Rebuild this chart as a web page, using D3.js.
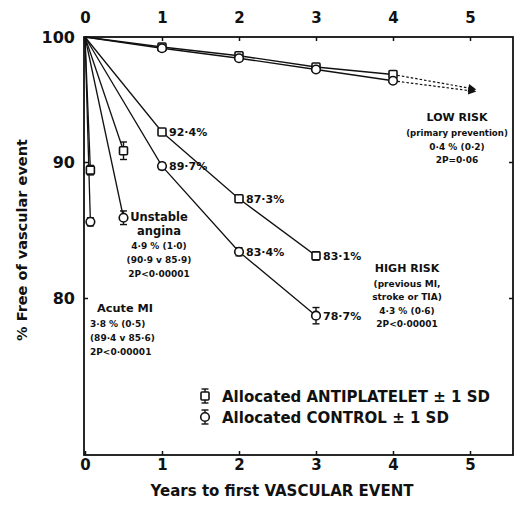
<!DOCTYPE html>
<html><head><meta charset="utf-8">
<script src="https://cdn.jsdelivr.net/npm/d3@7/dist/d3.min.js"></script>
<style>
html,body{margin:0;padding:0;background:#fff;}
svg{display:block;}
text{font-family:"DejaVu Sans",sans-serif;font-weight:bold;fill:#111;}
</style></head><body>
<svg id="chart" width="517" height="518"></svg>
<script>
// Proportion free of vascular event, antiplatelet vs control, by risk group

// axis ticks
const xTicks = [0, 1, 2, 3, 4, 5];
const yTicks = [100, 90, 80];

// low risk (primary prevention)
const lowYears = [0, 1, 2, 3, 4];
const lowAnti = [100, 99.2, 98.5, 97.6, 97.0];
const lowCtrl = [100, 99.1, 98.3, 97.4, 96.5];
const lowAntiSD = [0, 0.1, 0.12, 0.15, 0.2];
const lowCtrlSD = [0, 0.1, 0.12, 0.15, 0.2];
const lowProjYears = [4, 5];
const lowAntiProj = [97.0, 95.9];
const lowCtrlProj = [96.5, 95.7];

// high risk (previous MI, stroke or TIA)
const highYears = [0, 1, 2, 3];
const highAnti = [100, 92.4, 87.3, 83.1];
const highCtrl = [100, 89.7, 83.4, 78.7];
const highAntiSD = [0, 0.2, 0.25, 0.3];
const highCtrlSD = [0, 0.25, 0.3, 0.6];

// unstable angina
const anginaYears = [0, 0.5];
const anginaAnti = [100, 90.9];
const anginaCtrl = [100, 85.9];
const anginaAntiSD = [0, 0.7];
const anginaCtrlSD = [0, 0.5];

// acute MI
const amiYears = [0, 0.07];
const amiAnti = [100, 89.4];
const amiCtrl = [100, 85.6];
const amiAntiSD = [0, 0.35];
const amiCtrlSD = [0, 0.3];

// annotation texts
const lowNote = ["LOW RISK", "(primary prevention)", "0·4 % (0·2)", "2P=0·06"];
const highNote = ["HIGH RISK", "(previous MI,", "stroke or TIA)", "4·3 % (0·6)", "2P<0·00001"];
const anginaNote = ["Unstable", "angina", "4·9 % (1·0)", "(90·9 v 85·9)", "2P<0·00001"];
const amiNote = ["Acute MI", "3·8 % (0·5)", "(89·4 v 85·6)", "2P<0·00001"];
const legendLabels = ["Allocated ANTIPLATELET ± 1 SD", "Allocated CONTROL ± 1 SD"];
const xTitle = "Years to first VASCULAR EVENT";
const yTitle = "% Free of vascular event";

const svg = d3.select("#chart");
const frame = {left: 84, right: 513, top: 37, bottom: 455};

const x = d3.scaleLinear().domain([0, 5]).range([85, 470]);
const y = d3.scaleLinear().domain([100, 90, 80]).range([37, 162, 298]);

const fmt = v => d3.format(".1f")(v).replace(".", "·") + "%";

// arrowhead for projected segment
svg.append("defs").append("marker")
  .attr("id", "arrow").attr("viewBox", "0 0 10 10")
  .attr("refX", 2).attr("refY", 5)
  .attr("markerWidth", 10).attr("markerHeight", 8)
  .attr("markerUnits", "userSpaceOnUse")
  .attr("orient", "auto")
  .append("path").attr("d", "M0,0 L10,5 L0,10 Z").attr("fill", "#111");

// frame
svg.append("rect")
  .attr("x", frame.left).attr("y", frame.top)
  .attr("width", frame.right - frame.left).attr("height", frame.bottom - frame.top)
  .attr("fill", "none").attr("stroke", "#111").attr("stroke-width", 1.8);

function styleAxis(g, size) {
  g.select(".domain").remove();
  g.selectAll("line").attr("stroke", "#111").attr("stroke-width", 1.5);
  g.selectAll("text")
    .attr("font-family", "DejaVu Sans, sans-serif")
    .attr("font-weight", "bold").attr("font-size", size).attr("fill", "#111");
}

svg.append("g").attr("transform", `translate(0,${frame.top})`)
  .call(d3.axisTop(x).tickValues(xTicks).tickSize(-4).tickPadding(14).tickFormat(d3.format("d")))
  .call(g => styleAxis(g, 15));

svg.append("g").attr("transform", `translate(0,${frame.bottom})`)
  .call(d3.axisBottom(x).tickValues(xTicks).tickSize(-4).tickPadding(4).tickFormat(d3.format("d")))
  .call(g => styleAxis(g, 15));

svg.append("g").attr("transform", `translate(${frame.left},0)`)
  .call(d3.axisLeft(y).tickValues(yTicks).tickSize(-4).tickPadding(9).tickFormat(d3.format("d")))
  .call(g => styleAxis(g, 16));

svg.append("g").attr("transform", `translate(${frame.right},0)`)
  .call(d3.axisRight(y).tickValues([90, 80]).tickSize(-4).tickFormat(""))
  .call(g => styleAxis(g, 10));

const line = d3.line().x(d => x(d[0])).y(d => y(d[1]));
const zip = (a, b, s) => a.map((v, i) => [v, b[i], s ? s[i] : 0]);

const series = [
  {pts: zip(lowYears, lowAnti, lowAntiSD), type: "anti"},
  {pts: zip(lowYears, lowCtrl, lowCtrlSD), type: "ctrl"},
  {pts: zip(highYears, highAnti, highAntiSD), type: "anti", label: true},
  {pts: zip(highYears, highCtrl, highCtrlSD), type: "ctrl", label: true},
  {pts: zip(anginaYears, anginaAnti, anginaAntiSD), type: "anti"},
  {pts: zip(anginaYears, anginaCtrl, anginaCtrlSD), type: "ctrl"},
  {pts: zip(amiYears, amiAnti, amiAntiSD), type: "anti"},
  {pts: zip(amiYears, amiCtrl, amiCtrlSD), type: "ctrl"}
];

// connecting lines
svg.append("g").selectAll("path").data(series).join("path")
  .attr("d", s => line(s.pts))
  .attr("fill", "none").attr("stroke", "#111").attr("stroke-width", 1.3);

// projected low-risk trend
[zip(lowProjYears, lowAntiProj), zip(lowProjYears, lowCtrlProj)].forEach(p => {
  svg.append("path").attr("d", line(p))
    .attr("fill", "none").attr("stroke", "#111").attr("stroke-width", 1.2)
    .attr("stroke-dasharray", "2.5,2")
    .attr("marker-end", "url(#arrow)");
});

function drawSymbol(g, cx, cy, type, sdTop, sdBot) {
  if (sdTop !== undefined) {
    g.append("line").attr("x1", cx).attr("x2", cx).attr("y1", sdTop).attr("y2", sdBot)
      .attr("stroke", "#111").attr("stroke-width", 1.4);
    [sdTop, sdBot].forEach(yy => g.append("line")
      .attr("x1", cx - 3.5).attr("x2", cx + 3.5).attr("y1", yy).attr("y2", yy)
      .attr("stroke", "#111").attr("stroke-width", 1.4));
  }
  if (type === "anti") {
    g.append("rect").attr("x", cx - 4).attr("y", cy - 4).attr("width", 8).attr("height", 8)
      .attr("rx", 1).attr("fill", "#fff").attr("stroke", "#111").attr("stroke-width", 1.6);
  } else {
    g.append("circle").attr("cx", cx).attr("cy", cy).attr("r", 4.3)
      .attr("fill", "#fff").attr("stroke", "#111").attr("stroke-width", 1.6);
  }
}

// markers with ± 1 SD bars
const markG = svg.append("g");
series.forEach(s => {
  s.pts.filter(d => d[0] > 0).forEach(d => {
    drawSymbol(markG, x(d[0]), y(d[1]), s.type, y(d[1] + d[2]), y(d[1] - d[2]));
  });
});

// value labels on high-risk curves
series.filter(s => s.label).forEach(s => {
  svg.append("g").selectAll("text").data(s.pts.filter(d => d[0] > 0)).join("text")
    .attr("x", d => x(d[0]) + 7).attr("y", d => y(d[1]) + 4)
    .attr("font-size", 11).text(d => fmt(d[1]));
});

// group annotations
function note(lines, px, py, anchor, sizes, gap) {
  const g = svg.append("g");
  let yy = py;
  lines.forEach((t, i) => {
    g.append("text").attr("x", px).attr("y", yy).attr("text-anchor", anchor)
      .attr("font-size", sizes[i]).text(t);
    yy += gap[i] || 13.5;
  });
}
note(lowNote, 457, 121, "middle", [11, 8.6, 9, 9], [15, 13.5, 13]);
note(highNote, 407, 272, "middle", [11, 9, 9, 9, 9], [14.5, 13.5, 13.5, 13.5]);
note(anginaNote, 159, 221, "middle", [11.5, 11.5, 9, 9, 9], [14, 14, 14, 13.5]);
note(amiNote.slice(0, 1), 97, 312, "start", [11.3], []);
note(amiNote.slice(1), 90, 327, "start", [9, 9, 9], [14, 14]);

// legend
legendLabels.forEach((t, i) => {
  const cy = 396 + i * 21;
  const lg = svg.append("g");
  drawSymbol(lg, 205, cy, i === 0 ? "anti" : "ctrl", cy - 7, cy + 7);
  lg.append("text").attr("x", 222).attr("y", cy + 5.5).attr("font-size", 15).text(t);
});

// axis titles
svg.append("text").attr("x", 282).attr("y", 496).attr("text-anchor", "middle")
  .attr("font-size", 15).text(xTitle);
svg.append("text").attr("transform", "translate(27,240) rotate(-90)")
  .attr("text-anchor", "middle").attr("font-size", 14.5).text(yTitle);
</script>
</body></html>
